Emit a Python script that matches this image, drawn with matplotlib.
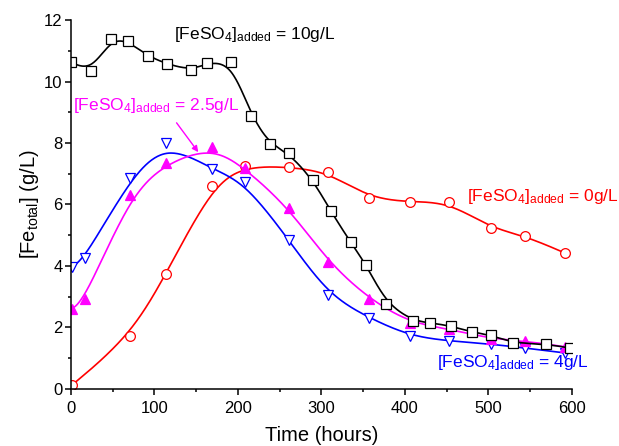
import numpy as np
import matplotlib.pyplot as plt

plt.rcParams['font.family'] = ['Liberation Sans', 'DejaVu Sans']
plt.rcParams['mathtext.fontset'] = 'custom'
plt.rcParams['mathtext.rm'] = 'Liberation Sans'
plt.rcParams['mathtext.it'] = 'Liberation Sans:italic'

# [FeSO4]added = 10 g/L
t_10 = [0, 24, 48, 68, 92, 115, 144, 163, 192, 216, 238, 261, 290, 311, 335,
        354, 378, 410, 430, 455, 480, 503, 530, 569, 598]
fe_10 = [10.63, 10.34, 11.38, 11.32, 10.83, 10.57, 10.37, 10.6, 10.63, 8.88,
         7.97, 7.67, 6.8, 5.79, 4.77, 4.03, 2.76, 2.22, 2.15, 2.05, 1.85,
         1.75, 1.49, 1.46, 1.33]

# [FeSO4]added = 0 g/L
t_0 = [1, 71, 114, 169, 208, 261, 308, 357, 406, 453, 503, 544, 592]
fe_0 = [0.12, 1.72, 3.74, 6.6, 7.25, 7.22, 7.06, 6.21, 6.08, 6.08, 5.23,
        4.98, 4.42]

# [FeSO4]added = 4 g/L
t_4 = [1, 17, 71, 114, 169, 208, 261, 308, 357, 406, 453, 503, 544, 592]
fe_4 = [3.97, 4.26, 6.86, 8.0, 7.15, 6.73, 4.85, 3.06, 2.31, 1.72, 1.56,
        1.46, 1.33, 1.17]

# [FeSO4]added = 2.5 g/L
t_25 = [1, 17, 71, 114, 169, 208, 261, 308, 357, 406, 453, 503, 544, 592]
fe_25 = [2.6, 2.93, 6.31, 7.35, 7.87, 7.19, 5.89, 4.13, 2.93, 2.15, 1.95,
         1.63, 1.56, 1.37]


def bspline(xs, ys, n=40):
    # clamped uniform cubic B-spline using the data points as control points
    P = np.column_stack([xs, ys]).astype(float)
    P = np.vstack([P[:1], P[:1], P, P[-1:], P[-1:]])
    t = np.linspace(0, 1, n)[:, None]
    b0 = (1 - t) ** 3 / 6
    b1 = (3 * t ** 3 - 6 * t ** 2 + 4) / 6
    b2 = (-3 * t ** 3 + 3 * t ** 2 + 3 * t + 1) / 6
    b3 = t ** 3 / 6
    segs = []
    for i in range(len(P) - 3):
        segs.append(b0 * P[i] + b1 * P[i + 1] + b2 * P[i + 2] + b3 * P[i + 3])
    c = np.vstack(segs)
    return c[:, 0], c[:, 1]


fig = plt.figure(figsize=(6.19, 4.46), dpi=100)
ax = fig.add_axes([0.1147, 0.128, 0.809, 0.827])

series = [
    (t_0, fe_0, 'red', 'o', 'white'),
    (t_4, fe_4, 'blue', 'v', 'white'),
    (t_25, fe_25, 'magenta', '^', 'magenta'),
    (t_10, fe_10, 'black', 's', 'white'),
]
for t, fe, col, mk, fc in series:
    cx, cy = bspline(t, fe)
    ax.plot(cx, cy, color=col, lw=1.2)
    ax.plot(t, fe, ls='none', marker=mk, ms=7, mfc=fc, mec=col, mew=0.9)

lab = r'[FeSO$_4$]$_{\mathrm{added}}$ = '
fs = 12.5
ax.text(123, 11.52, lab + '10g/L', color='black', fontsize=fs, va='center')
ax.text(2, 9.22, lab + '2.5g/L', color='magenta', fontsize=fs, va='center')
ax.text(475, 6.27, lab + '0g/L', color='red', fontsize=fs, va='center')
ax.text(439, 0.85, lab + '4g/L', color='blue', fontsize=fs, va='center')
ax.annotate('', xy=(154.5, 7.63), xytext=(124.5, 8.73),
            arrowprops=dict(arrowstyle='-|>', color='magenta', lw=1,
                            mutation_scale=9))

ax.set_xlim(0, 600)
ax.set_ylim(0, 12)
ax.set_xticks([0, 100, 200, 300, 400, 500, 600])
ax.set_xticks(np.arange(50, 600, 100), minor=True)
ax.set_yticks([0, 2, 4, 6, 8, 10, 12])
ax.set_yticks([1, 3, 5, 7, 9, 11], minor=True)
ax.spines['top'].set_visible(False)
ax.spines['right'].set_visible(False)
for s in ['left', 'bottom']:
    ax.spines[s].set_linewidth(1.1)
ax.tick_params(which='major', direction='out', length=4, width=1.1,
               labelsize=12)
ax.tick_params(which='minor', direction='out', length=2.5, width=1.1)
ax.tick_params(axis='x', pad=5)
ax.tick_params(axis='y', pad=2)

ax.set_xlabel('Time (hours)', fontsize=14.5, labelpad=7)
ax.set_ylabel(r'[Fe$_{\mathrm{total}}$] (g/L)', fontsize=14.5, labelpad=2)

fig.savefig('out.png', dpi=100)
